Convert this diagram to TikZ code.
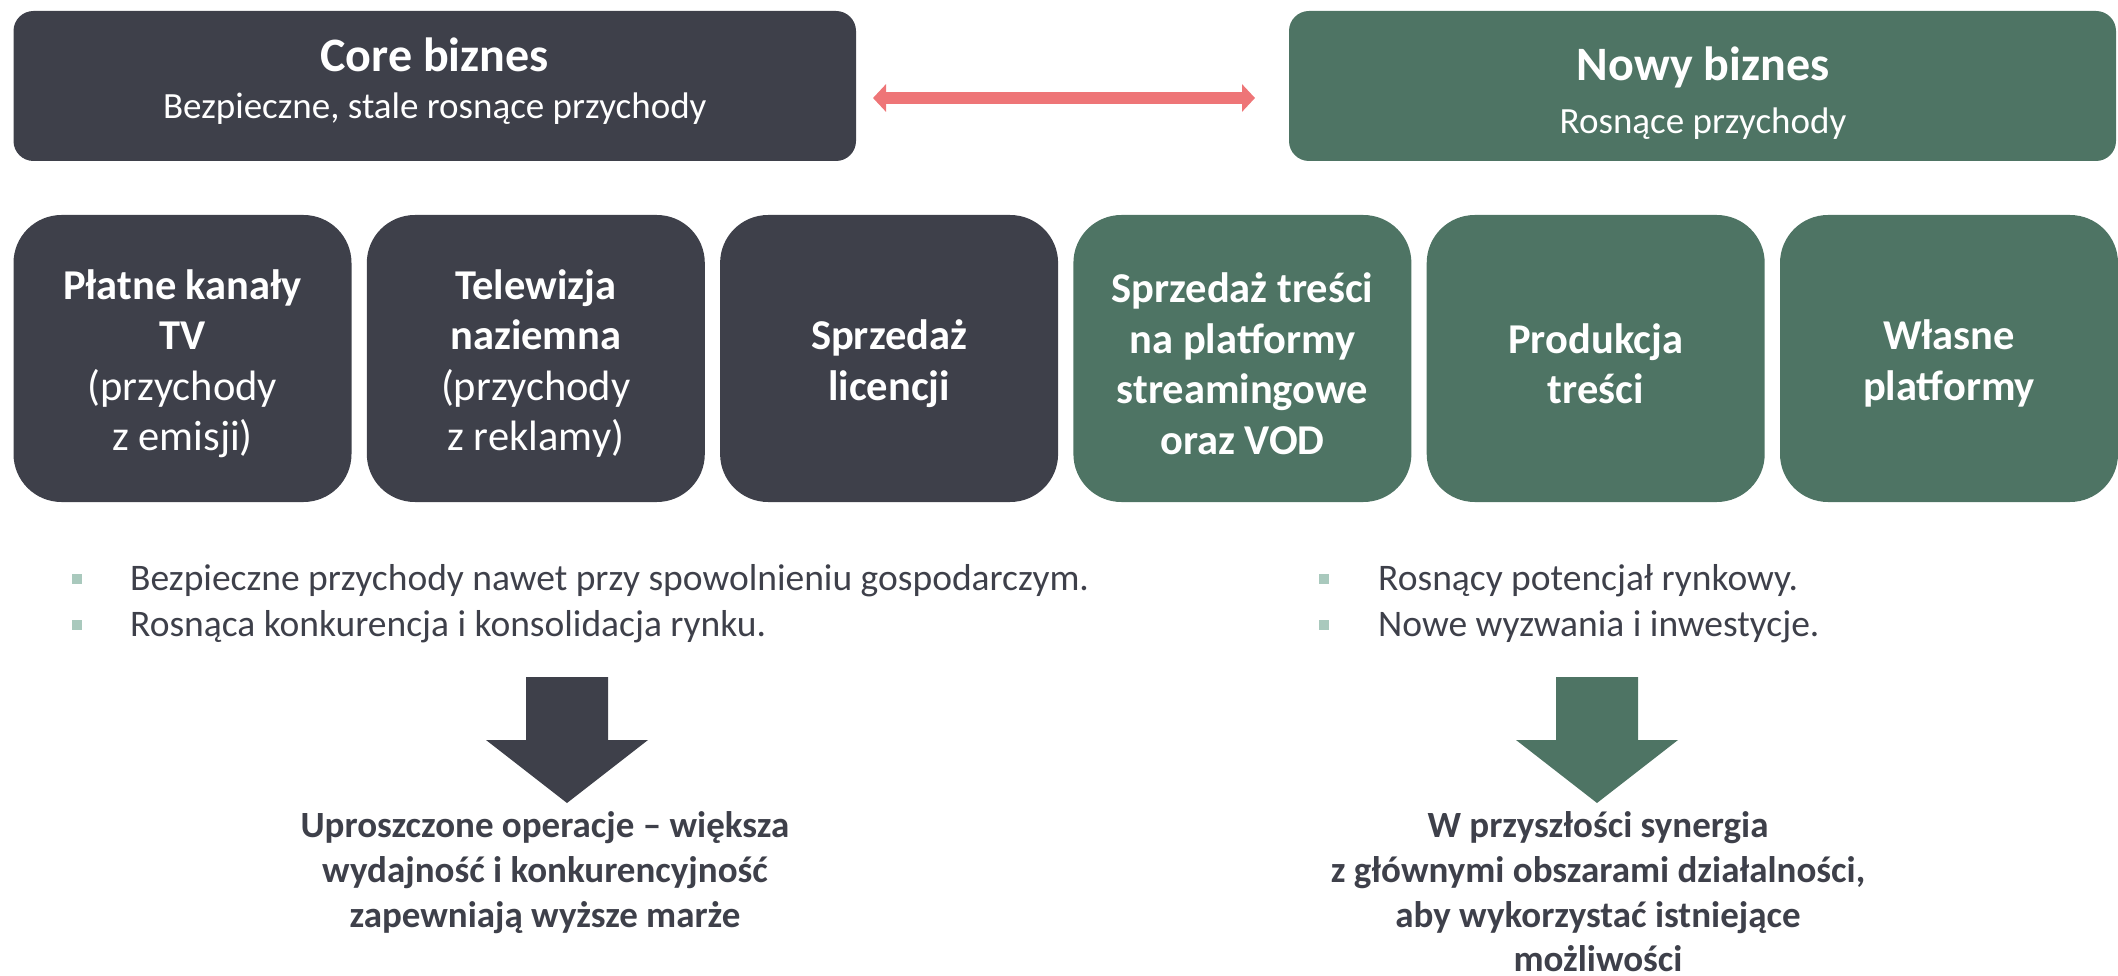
\documentclass[tikz,border=0pt]{standalone}
\usepackage{fontspec}
\setmainfont{Carlito}
\usetikzlibrary{arrows.meta}
\definecolor{darkbox}{HTML}{3E404A}
\definecolor{greenbox}{HTML}{4E7464}
\definecolor{pinkarrow}{HTML}{EE7577}
\definecolor{bulletc}{HTML}{A9C9BD}
\definecolor{textgray}{HTML}{3E404A}
\begin{document}
\begin{tikzpicture}[x=1pt,y=-1pt,
  topbox/.style={rounded corners=20pt, minimum height=150pt, inner sep=0pt},
  tile/.style={rounded corners=48pt, minimum width=338pt, minimum height=287pt, inner sep=0pt},
  tiletext/.style={text=white, align=center, inner sep=0pt, font=\fontsize{42.5}{50.5}\selectfont},
  toptitle/.style={anchor=base, text=white, inner sep=0pt, font=\bfseries\fontsize{48}{58}\selectfont},
  topsub/.style={anchor=base, text=white, inner sep=0pt, font=\fontsize{37}{45}\selectfont},
  bullet/.style={fill=bulletc, minimum size=10pt, inner sep=0pt},
  btext/.style={anchor=base west, text=textgray, inner sep=0pt, font=\fontsize{37.5}{45}\selectfont},
  outline/.style={anchor=base, text=textgray, inner sep=0pt, font=\bfseries\fontsize{37}{45}\selectfont},
  dbl/.style={draw=pinkarrow, line width=12pt, {Triangle[length=13pt,width=27pt]}-{Triangle[length=13pt,width=27pt]}},
]
\useasboundingbox (0,0) rectangle (2118,976);

% top boxes
\node[topbox, fill=darkbox, minimum width=842.5pt] (core) at (434.75,86) {};
\node[toptitle] (coret) at (434.75,72) {Core biznes};
\node[topsub] (cores) at (434.75,119) {Bezpieczne, stale rosnące przychody};

\node[topbox, fill=greenbox, minimum width=827pt] (nowy) at (1702.5,86) {};
\node[toptitle] (nowyt) at (1703,81) {Nowy biznes};
\node[topsub] (nowys) at (1703,134) {Rosnące przychody};

\coordinate (al) at (873,98);
\coordinate (ar) at (1255,98);
\draw[dbl] (al) -- (ar);

% tiles
\node[tile, fill=darkbox] (t1) at (182.5,358.5) {};
\node[tile, fill=darkbox] (t2) at (535.8,358.5) {};
\node[tile, fill=darkbox] (t3) at (889.1,358.5) {};
\node[tile, fill=greenbox] (t4) at (1242.4,358.5) {};
\node[tile, fill=greenbox] (t5) at (1595.7,358.5) {};
\node[tile, fill=greenbox] (t6) at (1949,358.5) {};
\node[tiletext] (x1) at ([yshift=-5pt]t1.center) {\textbf{Płatne kanały}\\\textbf{TV}\\(przychody\\z emisji)};
\node[tiletext] (x2) at ([yshift=-5pt]t2.center) {\textbf{Telewizja}\\\textbf{naziemna}\\(przychody\\z reklamy)};
\node[tiletext] (x3) at ([yshift=-5pt]t3.center) {\textbf{Sprzedaż}\\\textbf{licencji}};
\node[tiletext] (x4) at ([yshift=-5pt]t4.center) {\textbf{Sprzedaż treści}\\\textbf{na platformy}\\\textbf{streamingowe}\\\textbf{oraz VOD}};
\node[tiletext] (x5) at ([yshift=-5pt]t5.center) {\textbf{Produkcja}\\\textbf{treści}};
\node[tiletext] (x6) at ([yshift=-5pt]t6.center) {\textbf{Własne}\\\textbf{platformy}};

% bullets
\node[bullet] (bl1) at (77,579) {};
\node[btext] (tl1) at (130,590) {Bezpieczne przychody nawet przy spowolnieniu gospodarczym.};
\node[bullet] (bl2) at (77,625) {};
\node[btext] (tl2) at (130,636) {Rosnąca konkurencja i konsolidacja rynku.};
\node[bullet] (br1) at (1324,579) {};
\node[btext] (tr1) at (1378,590) {Rosnący potencjał rynkowy.};
\node[bullet] (br2) at (1324,625) {};
\node[btext] (tr2) at (1378,636) {Nowe wyzwania i inwestycje.};

% big arrows
\fill[darkbox] (526,677) -- (608,677) -- (608,740) -- (648,740) -- (567,803) -- (486,740) -- (526,740) -- cycle;
\fill[greenbox] (1556,677) -- (1638,677) -- (1638,740) -- (1678,740) -- (1597,803) -- (1516,740) -- (1556,740) -- cycle;

% conclusions
\node[outline] (cl1) at (545,837) {Uproszczone operacje – większa};
\node[outline] (cl2) at (545,882) {wydajność i konkurencyjność};
\node[outline] (cl3) at (545,927) {zapewniają wyższe marże};
\node[outline] (cr1) at (1598,837) {W przyszłości synergia};
\node[outline] (cr2) at (1598,882) {z głównymi obszarami działalności,};
\node[outline] (cr3) at (1598,927) {aby wykorzystać istniejące};
\node[outline] (cr4) at (1598,971) {możliwości};
\end{tikzpicture}
\end{document}
